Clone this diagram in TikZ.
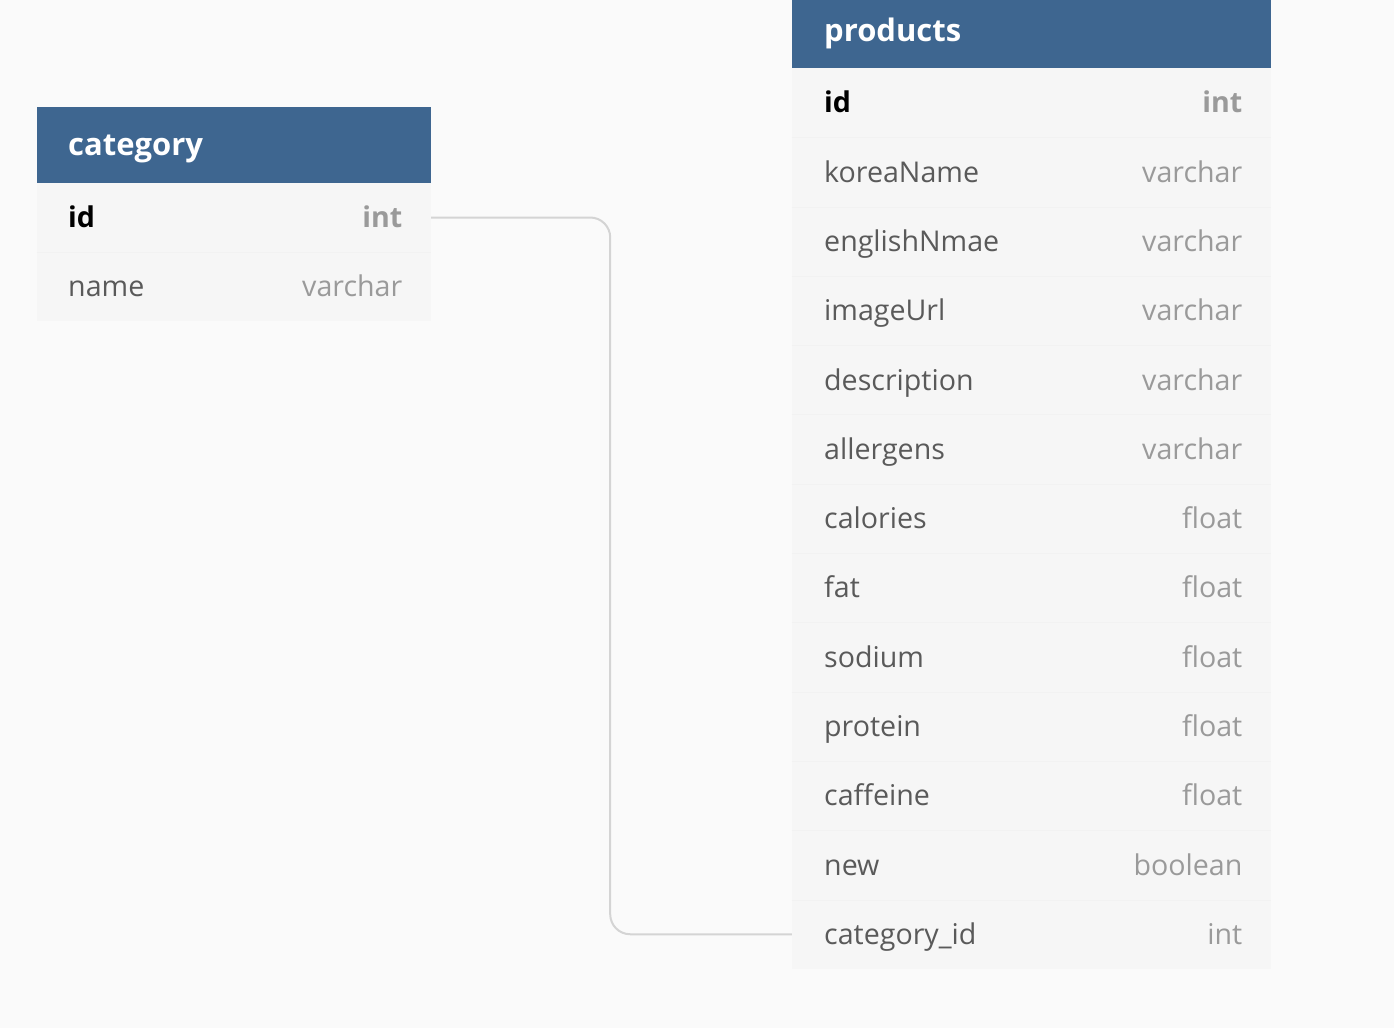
\documentclass[tikz,border=0pt]{standalone}
\usepackage{fontspec}
\setmainfont{Open Sans}
\definecolor{bg}{HTML}{FAFAFA}
\definecolor{hdr}{HTML}{3E6690}
\definecolor{rowbg}{HTML}{F6F6F6}
\definecolor{sep}{HTML}{F2F2F2}
\definecolor{fname}{HTML}{5A5A5A}
\definecolor{ftype}{HTML}{9A9A9A}
\definecolor{conncol}{HTML}{D4D4D4}
\tikzset{
  hdrbox/.style={fill=hdr, draw=none, rectangle, inner sep=0pt, minimum height=#1},
  rowbox/.style={fill=rowbg, draw=none, rectangle, inner sep=0pt, minimum height=69.3pt},
  hdrtext/.style={text=white, font=\fontsize{31}{33}\selectfont\bfseries, anchor=mid west, inner sep=0pt, yshift=-8pt},
  nametext/.style={text=fname, font=\fontsize{28.6}{30}\selectfont, anchor=mid west, inner sep=0pt, yshift=-7.5pt},
  keytext/.style={text=black, font=\fontsize{28.6}{30}\selectfont\bfseries, anchor=mid west, inner sep=0pt, yshift=-7.5pt},
  typetext/.style={text=ftype, font=\fontsize{28.6}{30}\selectfont, anchor=mid east, inner sep=0pt, yshift=-7.5pt},
  keytype/.style={text=ftype, font=\fontsize{28.6}{30}\selectfont\bfseries, anchor=mid east, inner sep=0pt, yshift=-7.5pt},
  conn/.style={draw=conncol, line width=2pt, rounded corners=20pt},
}
\begin{document}
\begin{tikzpicture}[x=1pt,y=-1pt]
\fill[bg] (0,0) rectangle (1394,1028);
\useasboundingbox (0,0) rectangle (1394,1028);
% category table
\node[hdrbox=76pt, minimum width=394pt] (chdr) at (234,145) {};
\node[hdrtext] (chdrt) at (68,145) {category};
\node[rowbox, minimum width=394pt, minimum height=69pt] (cid) at (234,217.5) {};
\node[rowbox, minimum width=394pt, minimum height=69pt] (cname) at (234,286.5) {};
\draw[sep, line width=0.6pt] (cid.south west) -- (cid.south east);
\node[keytext] (cidn) at (68,217.5) {id};
\node[keytype] (cidt) at (402.5,217.5) {int};
\node[nametext] (cnamen) at (68,286.5) {name};
\node[typetext] (cnamet) at (402.5,286.5) {varchar};
% products table
\node[hdrbox=68pt, minimum width=479pt] (phdr) at (1031.5,34) {};
\node[hdrtext] (phdrt) at (824,31) {products};
\foreach \i/\nm/\ty in {1/koreaName/varchar,2/englishNmae/varchar,3/imageUrl/varchar,4/description/varchar,5/allergens/varchar,6/calories/float,7/fat/float,8/sodium/float,9/protein/float,10/caffeine/float,11/new/boolean,12/category\_id/int}{
  \node[rowbox, minimum width=479pt] (prow\i) at (1031.5,{102.65+69.3*\i}) {};
  \node[nametext] (pn\i) at (824,{102.65+69.3*\i}) {\nm};
  \node[typetext] (pt\i) at (1242.5,{102.65+69.3*\i}) {\ty};
}
\node[rowbox, minimum width=479pt] (prow0) at (1031.5,102.65) {};
\node[keytext] (pn0) at (824,102.65) {id};
\node[keytype] (pt0) at (1242.5,102.65) {int};
\foreach \i in {0,...,11}{
  \draw[sep, line width=0.6pt] (prow\i.south west) -- (prow\i.south east);
}
% connector
\draw[conn] (cid.east) -- ++(179,0) |- (prow12.west);
\end{tikzpicture}
\end{document}
